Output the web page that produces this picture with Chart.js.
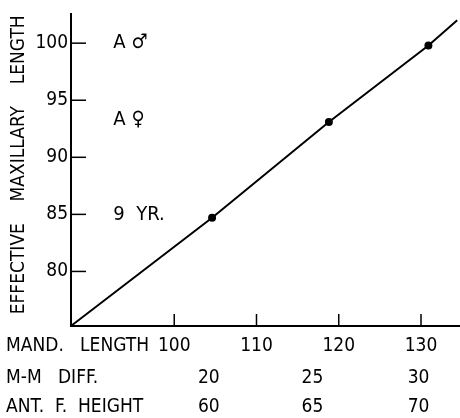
<!DOCTYPE html>
<html>
<head>
<meta charset="utf-8">
<style>
  html, body { margin: 0; padding: 0; background: #fff; }
  #wrap { width: 460px; height: 418px; }
</style>
<script src="https://cdn.jsdelivr.net/npm/chart.js@4.4.0/dist/chart.umd.min.js"></script>
</head>
<body>
<div id="wrap"><canvas id="maxChart"></canvas></div>
<script>
// values
const mandLength = [87.4, 104.6, 118.8, 130.9, 134.4];
const maxLength = [75.2, 84.7, 93.1, 99.8, 102.0];
const pointSizes = [0, 3, 3, 3, 0];
const mandTicks = [100, 110, 120, 130];
const maxTicks = [80, 85, 90, 95, 100];
const mmDiff = ['20', '25', '30'];
const antHeight = ['60', '65', '70'];
const subTickAt = [104.2, 116.8, 129.7];   // mand. length under each M-M / ANT label
const rowLabels = ['MAND.   LENGTH', 'M-M   DIFF.', 'ANT.  F.  HEIGHT'];
const notes = ['A \u2642', 'A \u2640', '9  YR.'];
const noteAt = [100, 93.3, 85];
const noteX = 92.6;

const FAMILY = "'Liberation Sans Narrow', 'DejaVu Sans Condensed', sans-serif";
const tickFont = { family: FAMILY, size: 19 };
const X_MIN = 87.45, X_MAX = 134.74;

const ticksAt = (vals) => (s) => { s.ticks = vals.map(v => ({ value: v })); };
const fixHeight = (h) => (s) => { s.height = h; };

const extras = {
  id: 'extras',
  afterDraw(chart) {
    const { ctx, chartArea, scales } = chart;
    ctx.save();
    ctx.strokeStyle = '#000';
    ctx.lineWidth = 1.5;
    // tick marks point into the plot
    scales.x.ticks.forEach(t => {
      const px = scales.x.getPixelForValue(t.value);
      ctx.beginPath();
      ctx.moveTo(px, chartArea.bottom);
      ctx.lineTo(px, chartArea.bottom - 12);
      ctx.stroke();
    });
    scales.y.ticks.forEach(t => {
      const py = scales.y.getPixelForValue(t.value);
      ctx.beginPath();
      ctx.moveTo(chartArea.left, py);
      ctx.lineTo(chartArea.left + 15, py);
      ctx.stroke();
    });
    ctx.fillStyle = '#000';
    ctx.font = tickFont.size + 'px ' + FAMILY;
    ctx.textAlign = 'left';
    ctx.textBaseline = 'middle';
    ['x', 'x2', 'x3'].forEach((id, i) => {
      const s = scales[id];
      ctx.fillText(rowLabels[i], 6, s.top + s.options.ticks.padding + tickFont.size * 0.6);
    });
    ctx.font = '20px ' + FAMILY;
    notes.forEach((n, i) => {
      ctx.fillText(n, scales.x.getPixelForValue(noteX), scales.y.getPixelForValue(noteAt[i]));
    });
    ctx.restore();
  }
};

const ctx = document.getElementById('maxChart').getContext('2d');
const maxChart = new Chart(ctx, {
  type: 'line',
  data: {
    datasets: [{
      data: mandLength.map((v, i) => ({ x: v, y: maxLength[i] })),
      borderColor: '#000',
      backgroundColor: '#000',
      borderWidth: 2,
      pointRadius: pointSizes,
      pointHoverRadius: pointSizes,
      tension: 0
    }]
  },
  options: {
    responsive: true,
    maintainAspectRatio: false,
    animation: false,
    layout: { padding: { top: 12, right: 0, bottom: 0, left: 0 } },
    plugins: { legend: { display: false }, tooltip: { enabled: false } },
    scales: {
      x: {
        type: 'linear', position: 'bottom', min: X_MIN, max: X_MAX,
        afterBuildTicks: ticksAt(mandTicks),
        afterFit: fixHeight(31),
        grid: { display: true, drawOnChartArea: false, drawTicks: false },
        border: { display: true, color: '#000', width: 2 },
        ticks: { color: '#000', font: tickFont, padding: 9, maxRotation: 0, autoSkip: false }
      },
      x2: {
        type: 'linear', position: 'bottom', min: X_MIN, max: X_MAX,
        afterBuildTicks: ticksAt(subTickAt),
        afterFit: fixHeight(32),
        grid: { display: false, drawTicks: false },
        border: { display: false },
        ticks: { color: '#000', font: tickFont, padding: 10, maxRotation: 0, autoSkip: false,
                 callback: (v, i) => mmDiff[i] }
      },
      x3: {
        type: 'linear', position: 'bottom', min: X_MIN, max: X_MAX,
        afterBuildTicks: ticksAt(subTickAt),
        afterFit: fixHeight(29),
        grid: { display: false, drawTicks: false },
        border: { display: false },
        ticks: { color: '#000', font: tickFont, padding: 7, maxRotation: 0, autoSkip: false,
                 callback: (v, i) => antHeight[i] }
      },
      y: {
        type: 'linear', min: 75.22, max: 102.52,
        afterBuildTicks: ticksAt(maxTicks),
        afterFit: (s) => { s.width = 71; },
        grid: { display: true, drawOnChartArea: false, drawTicks: false },
        border: { display: true, color: '#000', width: 2 },
        ticks: { color: '#000', font: tickFont, padding: 3 },
        title: {
          display: true,
          text: '  EFFECTIVE    MAXILLARY    LENGTH',
          color: '#000',
          font: { family: FAMILY, size: 19 },
          padding: { top: 8, bottom: 0 }
        }
      }
    }
  },
  plugins: [extras]
});
</script>
</body>
</html>
